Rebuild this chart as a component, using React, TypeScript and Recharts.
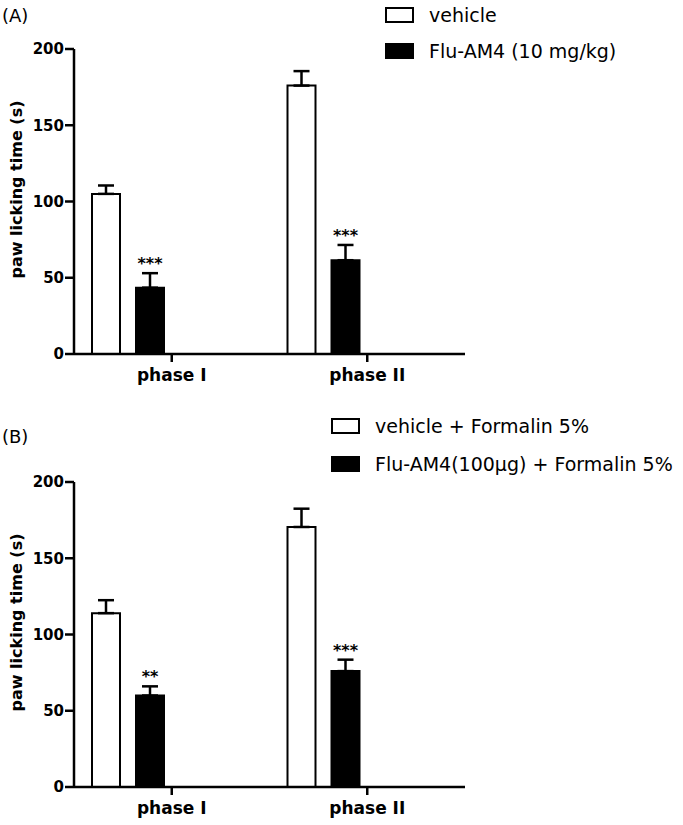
import React from 'react';
import { BarChart, Bar, XAxis, YAxis, ErrorBar, LabelList, Legend } from 'recharts';

const categories = ['phase I', 'phase II'];
const yTicks = [0, 50, 100, 150, 200];

// panel A
const vehicleA = [105, 176];
const vehicleErrA = [5.5, 9.5];
const fluA = [43.5, 61.5];
const fluErrA = [9.5, 10];
const starsA = ['***', '***'];
const namesA = ['vehicle', 'Flu-AM4 (10 mg/kg)'];

// panel B
const vehicleB = [114, 170.5];
const vehicleErrB = [8.5, 12];
const fluB = [60, 76];
const fluErrB = [6, 7.5];
const starsB = ['**', '***'];
const namesB = ['vehicle + Formalin 5%', 'Flu-AM4(100\u00b5g) + Formalin 5%'];

const FONT = '"DejaVu Sans", sans-serif';
const boxFills = ['#fff', '#000'];

interface PanelProps {
  tag: string;
  top: number;
  height: number;
  plotTop: number;
  vehicle: number[];
  vehicleErr: number[];
  flu: number[];
  fluErr: number[];
  stars: string[];
  names: string[];
  legendLeft: number;
  legendTop: number;
  legendRow: number;
  tagTop: number;
}

const Panel: React.FC<PanelProps> = (p) => {
  // error bars only go up: [low, high]
  const data = categories.map((name, i) => ({
    name,
    vehicle: p.vehicle[i],
    vehicleErr: [0, p.vehicleErr[i]],
    flu: p.flu[i],
    fluErr: [0, p.fluErr[i]],
  }));

  const renderStars = (props: any) => {
    const vb = props.viewBox || props;
    const i = props.index;
    const perUnit = vb.height / p.flu[i];
    const capY = vb.y - p.fluErr[i] * perUnit;
    return (
      <text
        x={vb.x + vb.width / 2}
        y={capY - 4}
        textAnchor="middle"
        fontFamily={FONT}
        fontWeight="bold"
        fontSize={16}
        fill="#000"
      >
        {p.stars[i]}
      </text>
    );
  };

  const renderYLabel = (props: any) => {
    const vb = props.viewBox;
    const x = vb.x + 16;
    const y = vb.y + vb.height / 2 - 12;
    return (
      <text
        x={x}
        y={y}
        transform={`rotate(-90, ${x}, ${y})`}
        textAnchor="middle"
        dominantBaseline="central"
        fontFamily={FONT}
        fontWeight="bold"
        fontSize={16}
        fill="#000"
      >
        paw licking time (s)
      </text>
    );
  };

  const renderLegend = () => (
    <div style={{ fontFamily: FONT, fontSize: 19, color: '#000' }}>
      {p.names.map((n, i) => (
        <div key={n} style={{ display: 'flex', alignItems: 'center', height: p.legendRow, whiteSpace: 'nowrap' }}>
          <span
            style={{
              display: 'inline-block',
              flexShrink: 0,
              width: 25,
              height: 12,
              border: '2px solid #000',
              background: boxFills[i],
              marginRight: 15,
            }}
          />
          <span>{n}</span>
        </div>
      ))}
    </div>
  );

  return (
    <div style={{ position: 'absolute', left: 0, top: p.top, width: 683, height: p.height }}>
      <div
        style={{
          position: 'absolute',
          left: 2,
          top: p.tagTop,
          fontFamily: FONT,
          fontSize: 18,
          lineHeight: '21px',
          color: '#000',
          zIndex: 2,
        }}
      >
        {p.tag}
      </div>
      <BarChart
        width={683}
        height={p.height}
        data={data}
        margin={{ top: p.plotTop, right: 218, left: 0, bottom: p.height - p.plotTop - 305 - 30 }}
        barSize={28}
        barGap={16}
      >
        <XAxis
          dataKey="name"
          height={30}
          axisLine={{ stroke: '#000', strokeWidth: 2.5 }}
          tickLine={{ stroke: '#000', strokeWidth: 2.5 }}
          tickSize={8}
          tickMargin={7}
          tick={{ fill: '#000', fontSize: 17, fontWeight: 'bold', fontFamily: FONT }}
        />
        <YAxis
          domain={[0, 200]}
          ticks={yTicks}
          interval={0}
          width={74}
          axisLine={{ stroke: '#000', strokeWidth: 2.5 }}
          tickLine={{ stroke: '#000', strokeWidth: 2.5 }}
          tickSize={9}
          tickMargin={1}
          tick={{ fill: '#000', fontSize: 15, fontWeight: 'bold', fontFamily: FONT }}
          label={renderYLabel}
        />
        <Legend
          layout="vertical"
          align="center"
          verticalAlign="middle"
          wrapperStyle={{ left: p.legendLeft, top: p.legendTop, width: 352 }}
          content={renderLegend}
        />
        <Bar dataKey="vehicle" fill="#fff" stroke="#000" strokeWidth={2} isAnimationActive={false}>
          <ErrorBar dataKey="vehicleErr" width={8} stroke="#000" strokeWidth={2.5} />
        </Bar>
        <Bar dataKey="flu" fill="#000" stroke="#000" strokeWidth={2} isAnimationActive={false}>
          <ErrorBar dataKey="fluErr" width={8} stroke="#000" strokeWidth={2.5} />
          <LabelList dataKey="flu" content={renderStars} />
        </Bar>
        {/* empty slots so the two bars sit left of the category tick */}
        <Bar dataKey="slot3" fill="none" isAnimationActive={false} />
        <Bar dataKey="slot4" fill="none" isAnimationActive={false} />
      </BarChart>
    </div>
  );
};

export default function App() {
  return (
    <div style={{ position: 'absolute', left: 0, top: 0, width: 683, height: 825, background: '#fff', overflow: 'hidden' }}>
      <Panel
        tag="(A)"
        top={0}
        height={420}
        plotTop={49}
        vehicle={vehicleA}
        vehicleErr={vehicleErrA}
        flu={fluA}
        fluErr={fluErrA}
        stars={starsA}
        names={namesA}
        legendLeft={385}
        legendTop={-3}
        legendRow={36}
        tagTop={5}
      />
      <Panel
        tag="(B)"
        top={420}
        height={405}
        plotTop={62}
        vehicle={vehicleB}
        vehicleErr={vehicleErrB}
        flu={fluB}
        fluErr={fluErrB}
        stars={starsB}
        names={namesB}
        legendLeft={331}
        legendTop={-13}
        legendRow={38}
        tagTop={6}
      />
    </div>
  );
}
